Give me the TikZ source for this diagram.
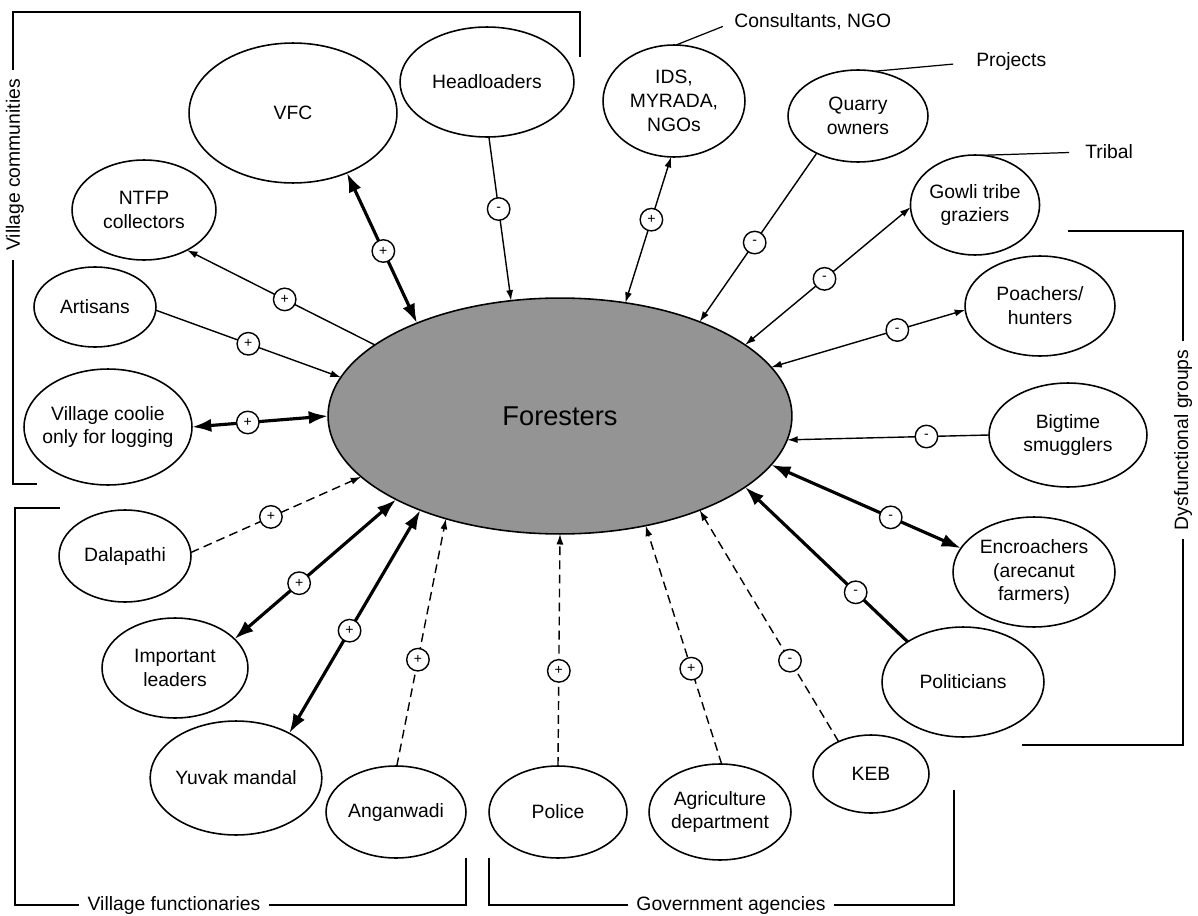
\documentclass[tikz,border=0pt]{standalone}
\usepackage{fontspec}
\setmainfont{Liberation Sans}
\usetikzlibrary{shapes.geometric,arrows.meta}

\newcommand*{\labelfont}{\fontsize{11}{13.6}\selectfont}
\newcommand*{\signfont}{\fontsize{8}{8}\selectfont}

\begin{document}
\begin{tikzpicture}
[
	x=0.02cm, y=-0.02cm,
	actor/.style 2 args={ellipse,draw,line width=0.9pt,inner sep=0pt,outer sep=0pt,
		align=center,font=\labelfont,minimum width=#1*0.04cm,minimum height=#2*0.04cm},
	signdot/.style={circle,draw,solid,fill=white,line width=0.8pt,inner sep=0pt,
		minimum size=0.45cm,font=\signfont},
	thinlink/.style={line width=0.8pt,>={Latex[length=6pt,width=4pt]}},
	thicklink/.style={line width=1.8pt,>={Latex[length=11pt,width=7.5pt]}},
	dashlink/.style={line width=0.8pt,dash pattern=on 5pt off 3pt,>={Latex[length=6pt,width=4pt]}},
	bracket/.style={line width=1.1pt},
	grouplabel/.style={fill=white,inner sep=5pt,font=\labelfont},
	leader/.style={line width=0.7pt},
	tag/.style={anchor=west,inner sep=0pt,font=\labelfont}
]

	\useasboundingbox (0,0) rectangle (1198,916);

	% central group
	\node[actor={232}{118},fill=black!42,font=\fontsize{15.5}{18}\selectfont] (forest) at (560,416) {Foresters};

	% surrounding groups
	\node[actor={104}{70}] (vfc) at (293,113) {VFC};
	\node[actor={87}{55}] (head) at (487,82) {Headloaders};
	\node[actor={71}{56}] (ids) at (674,101) {IDS,\\MYRADA,\\NGOs};
	\node[actor={70}{46}] (quarry) at (858,116) {Quarry\\owners};
	\node[actor={64}{50}] (gowli) at (975,205) {Gowli tribe\\graziers};
	\node[actor={75}{50}] (poach) at (1040,306) {Poachers/\\hunters};
	\node[actor={79}{52}] (bigtime) at (1068,435) {Bigtime\\smugglers};
	\node[actor={81}{55}] (encroach) at (1034,572) {Encroachers\\(arecanut\\farmers)};
	\node[actor={81}{55}] (politic) at (963,682) {Politicians};
	\node[actor={58}{39}] (keb) at (871,774) {KEB};
	\node[actor={71}{48}] (agri) at (720,812) {Agriculture\\department};
	\node[actor={69}{46}] (police) at (558,812) {Police};
	\node[actor={70}{46}] (angan) at (396,812) {Anganwadi};
	\node[actor={85}{57}] (yuvak) at (236,778) {Yuvak mandal};
	\node[actor={73}{50}] (leaders) at (175,668) {Important\\leaders};
	\node[actor={66}{46}] (dala) at (125,556) {Dalapathi};
	\node[actor={84}{58},inner xsep=-4pt] (coolie) at (108,427) {Village coolie\\only for logging};
	\node[actor={61}{40}] (artisan) at (95,307) {Artisans};
	\node[actor={72}{50}] (ntfp) at (144,210) {NTFP\\collectors};

	% side notes
	\node[tag] (consult) at (734,22) {Consultants, NGO};
	\node[tag] (projects) at (976,62) {Projects};
	\node[tag] (tribal) at (1085,152) {Tribal};
	\draw[leader,shorten >=0.24cm] (ids.88) -- (consult.west);
	\draw[leader,shorten >=0.46cm] (quarry.70) -- (projects.west);
	\draw[leader,shorten >=0.32cm] (gowli.82) -- (tribal.west);

	% relations with the foresters
	\draw[thicklink,<->] (vfc.312) -- node[signdot,pos=0.52]{+} (forest.147);
	\draw[thinlink,<-] (ntfp.317) -- node[signdot,pos=0.52]{+} (forest.159);
	\draw[thinlink,->] (artisan.357) -- node[signdot,pos=0.5]{+} (forest.170);
	\draw[thicklink,<->] (coolie.0) -- node[signdot,pos=0.41]{+} (forest.180);
	\draw[dashlink,->] (dala.3) -- node[signdot,pos=0.47]{+} (forest.197);
	\draw[thicklink,<->] (leaders.26) -- node[signdot,pos=0.4]{+} (forest.207);
	\draw[thicklink,<->] (yuvak.40) -- node[signdot,pos=0.46]{+} (forest.214);
	\draw[dashlink,->] (angan.89) -- node[signdot,pos=0.43]{+} (forest.222);
	\draw[dashlink,->] (police.90) -- node[signdot,pos=0.41]{+} (forest.270);
	\draw[dashlink,->] (agri.88) -- node[signdot,pos=0.4]{+} (forest.308);
	\draw[dashlink,->] (keb.135) -- node[signdot,pos=0.35]{-} (forest.326);
	\draw[thicklink,->] (politic.144) -- node[signdot,pos=0.32]{-} (forest.339);
	\draw[thicklink,<->] (encroach.162) -- node[signdot,pos=0.37]{-} (forest.347);
	\draw[thinlink,->] (bigtime.180) -- node[signdot,pos=0.31]{-} (forest.354);
	\draw[thinlink,<->] (poach.183) -- node[signdot,pos=0.35]{-} (forest.13);
	\draw[thinlink,<->] (gowli.182) -- node[signdot,pos=0.52]{-} (forest.21);
	\draw[thinlink,->] (quarry.222) -- node[signdot,pos=0.53]{-} (forest.34);
	\draw[thinlink,<->] (ids.267) -- node[signdot,pos=0.43]{+} (forest.60);
	\draw[thinlink,->] (head.272) -- node[signdot,pos=0.44]{-} (forest.113);

	% group brackets
	\draw[bracket] (37,484) -| (13,12) -| (580,57);
	\node[grouplabel,rotate=90] (vcomm) at (15,165) {Village communities};
	\draw[bracket] (60,508) -| (15,905) -| (466,858);
	\node[grouplabel] (vfunc) at (174,905) {Village functionaries};
	\draw[bracket] (489,858) |- (954,905) -- (954,790);
	\node[grouplabel] (govt) at (731,905) {Government agencies};
	\draw[bracket] (1068,231) -| (1183,745) -- (1022,745);
	\node[grouplabel,rotate=90] (dysf) at (1183,440) {Dysfunctional groups};

\end{tikzpicture}
\end{document}
